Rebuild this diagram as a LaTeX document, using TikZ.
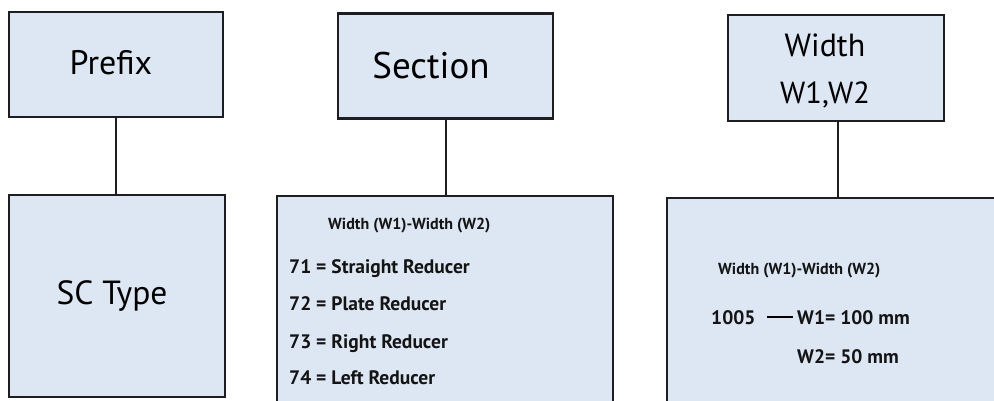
\documentclass[tikz,border=0pt]{standalone}
\usepackage{fontspec}
\setmainfont{PT Sans}
\definecolor{boxfill}{RGB}{221,231,243}
\definecolor{boxline}{RGB}{30,30,34}
\tikzset{
  box/.style={draw=boxline, fill=boxfill, line width=2.2pt, rectangle, inner sep=0pt},
  link/.style={draw=boxline, line width=2pt},
  big/.style={font=\fontsize{34}{40}\selectfont, text=black},
  small/.style={font=\bfseries\fontsize{19.5}{22}\selectfont, anchor=base west, inner sep=0pt, text=black!92},
  head/.style={small, font=\bfseries\fontsize{16}{18}\selectfont}
}
\begin{document}
\begin{tikzpicture}[x=1pt, y=-1pt]
\clip (0,0) rectangle (994,400);
\fill[white] (0,0) rectangle (994,400);
% upper boxes
\node[box, minimum width=214pt, minimum height=105pt] (pre) at (116,64.5) {};
\node[box, minimum width=215pt, minimum height=105pt] (sec) at (445.5,66) {};
\node[box, minimum width=216pt, minimum height=106pt] (wid) at (836,68) {};
% lower boxes
\node[box, minimum width=216pt, minimum height=202pt] (sc) at (117,296) {};
\node[box, minimum width=336pt, minimum height=230pt] (red) at (445,311) {};
\node[box, minimum width=342pt, minimum height=230pt] (dim) at (838,313) {};
% connectors
\draw[link] (pre.south) -- (pre.south |- sc.north);
\draw[link] (sec.south) -- (sec.south |- red.north);
\draw[link] ([xshift=2pt]wid.south) -- ([xshift=2pt]wid.south |- dim.north);
% big labels
\node[big] (t1) at (111,63) {Prefix};
\node[big, font=\fontsize{37}{44}\selectfont] (t2) at (431,66) {Section};
\node[big, font=\fontsize{32}{40}\selectfont] (t3a) at (825,45) {Width};
\node[big, font=\fontsize{30.5}{40}\selectfont] (t3b) at (825,95) {W1,W2};
\node[big, font=\fontsize{33.5}{44}\selectfont] (t4) at (112,296) {SC Type};
% section list
\node[head] (s0) at (328,229) {Width (W1)-Width (W2)};
\node[small] (s1) at (289,273) {71 = Straight Reducer};
\node[small] (s2) at (289,310) {72 = Plate Reducer};
\node[small] (s3) at (289,348) {73 = Right Reducer};
\node[small] (s4) at (289,384) {74 = Left Reducer};
% width details
\node[head] (w0) at (718,274) {Width (W1)-Width (W2)};
\node[small] (w1) at (711,324) {1005};
\node[small] (w2) at (797,324) {W1= 100 mm};
\node[small] (w3) at (797,363) {W2= 50 mm};
\coordinate (da) at (767,317);
\coordinate (db) at (793,317);
\draw[line width=2pt, black] (da) -- (db);
\end{tikzpicture}
\end{document}
